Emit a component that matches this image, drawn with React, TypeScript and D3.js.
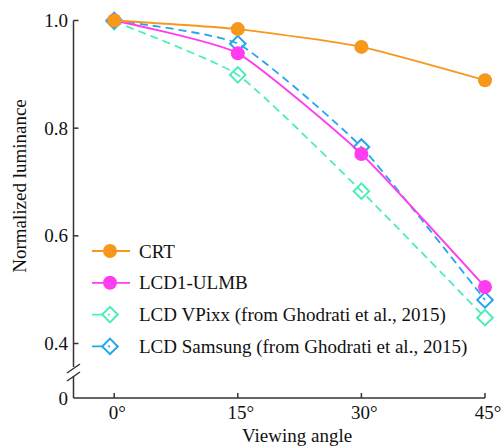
import React from 'react';
import { scaleLinear, line, curveCardinal } from 'd3';

const width = 502;
const height = 448;

// viewing angles (degrees) and normalized luminance per display
const angles = [0, 15, 30, 45];
const angleLabels = ['0°', '15°', '30°', '45°'];
const crt = [1.0, 0.984, 0.951, 0.889];
const ulmb = [1.0, 0.939, 0.752, 0.505];
const vpixx = [0.998, 0.899, 0.683, 0.448];
const samsung = [1.0, 0.957, 0.765, 0.481];
const yTicks = [0.4, 0.6, 0.8, 1.0];

const series = [
  { name: 'LCD VPixx (from Ghodrati et al., 2015)', values: vpixx, color: '#4cedbc', dashed: true, marker: 'diamond' },
  { name: 'LCD Samsung (from Ghodrati et al., 2015)', values: samsung, color: '#22a6f2', dashed: true, marker: 'diamond' },
  { name: 'LCD1-ULMB', values: ulmb, color: '#ff3cef', dashed: false, marker: 'circle' },
  { name: 'CRT', values: crt, color: '#f7981c', dashed: false, marker: 'circle' },
];
const legendOrder = ['CRT', 'LCD1-ULMB', 'LCD VPixx (from Ghodrati et al., 2015)', 'LCD Samsung (from Ghodrati et al., 2015)'];

const font = "'Liberation Serif', 'Times New Roman', serif";

const Marker = ({ type, x, y, color }) =>
  type === 'circle' ? (
    <circle cx={x} cy={y} r={7} fill={color} />
  ) : (
    <rect x={x - 5.5} y={y - 5.5} width={11} height={11} fill="none" stroke={color} strokeWidth={2}
      transform={`rotate(45 ${x} ${y})`} />
  );

const App = () => {
  const xScale = scaleLinear().domain([-5, 45]).range([73, 485]);
  const yScale = scaleLinear().domain([0.4, 1.0]).range([343.5, 20.5]);
  const baseY = 398;
  const axisX = 73.5;

  // gentle smoothing between the measured angles
  const path = line<number>()
    .x((d, i) => xScale(angles[i]))
    .y((d) => yScale(d))
    .curve(curveCardinal.tension(0.5));

  return (
    <svg width={width} height={height} style={{ position: 'absolute', left: 0, top: 0, fontFamily: font }}>
      {/* y axis with break */}
      <g stroke="#333" strokeWidth={1.5} fill="none">
        <line x1={axisX} x2={axisX} y1={yScale(1.0)} y2={367} />
        <line x1={axisX} x2={axisX} y1={376} y2={baseY} />
        <line x1={67} y1={373} x2={80} y2={364} />
        <line x1={67} y1={381} x2={80} y2={372} />
        <line x1={axisX} x2={485} y1={baseY} y2={baseY} />
        {yTicks.map((t) => (
          <line key={t} x1={axisX} x2={axisX + 5} y1={yScale(t)} y2={yScale(t)} />
        ))}
        {angles.map((a) => (
          <line key={a} x1={xScale(a)} x2={xScale(a)} y1={baseY} y2={baseY - 5} />
        ))}
      </g>
      <g style={{ fontFamily: font, fontSize: 19 }} fill="#111">
        {yTicks.map((t) => (
          <text key={t} x={68} y={yScale(t)} dy="0.35em" textAnchor="end">{t.toFixed(1)}</text>
        ))}
        <text x={68} y={baseY} dy="0.35em" textAnchor="end">0</text>
        {angles.map((a, i) => (
          <text key={a} x={xScale(a) + 3} y={412} dy="0.35em" textAnchor="middle">{angleLabels[i]}</text>
        ))}
        <text x={297} y={435} dy="0.35em" textAnchor="middle">Viewing angle</text>
        <text transform={`translate(19, 186) rotate(-90)`} dy="0.35em" textAnchor="middle">Normalized luminance</text>
      </g>
      {/* series */}
      {series.map((s) => (
        <g key={s.name}>
          <path d={path(s.values)} fill="none" stroke={s.color} strokeWidth={1.8}
            strokeDasharray={s.dashed ? '8,5' : undefined} />
          {s.values.map((v, i) => (
            <Marker key={i} type={s.marker} x={xScale(angles[i])} y={yScale(v)} color={s.color} />
          ))}
        </g>
      ))}
      {/* legend */}
      {legendOrder.map((name, i) => {
        const s = series.find((d) => d.name === name);
        const y = 251 + i * 31.8;
        return (
          <g key={name}>
            <line x1={92} x2={130} y1={y} y2={y} stroke={s.color} strokeWidth={1.8}
              strokeDasharray={s.dashed ? '10,6,2,20' : undefined} />
            <Marker type={s.marker} x={110} y={y} color={s.color} />
            <text x={139} y={y} dy="0.35em" style={{ fontFamily: font, fontSize: 19 }} fill="#111">{name}</text>
          </g>
        );
      })}
    </svg>
  );
};

export default App;
